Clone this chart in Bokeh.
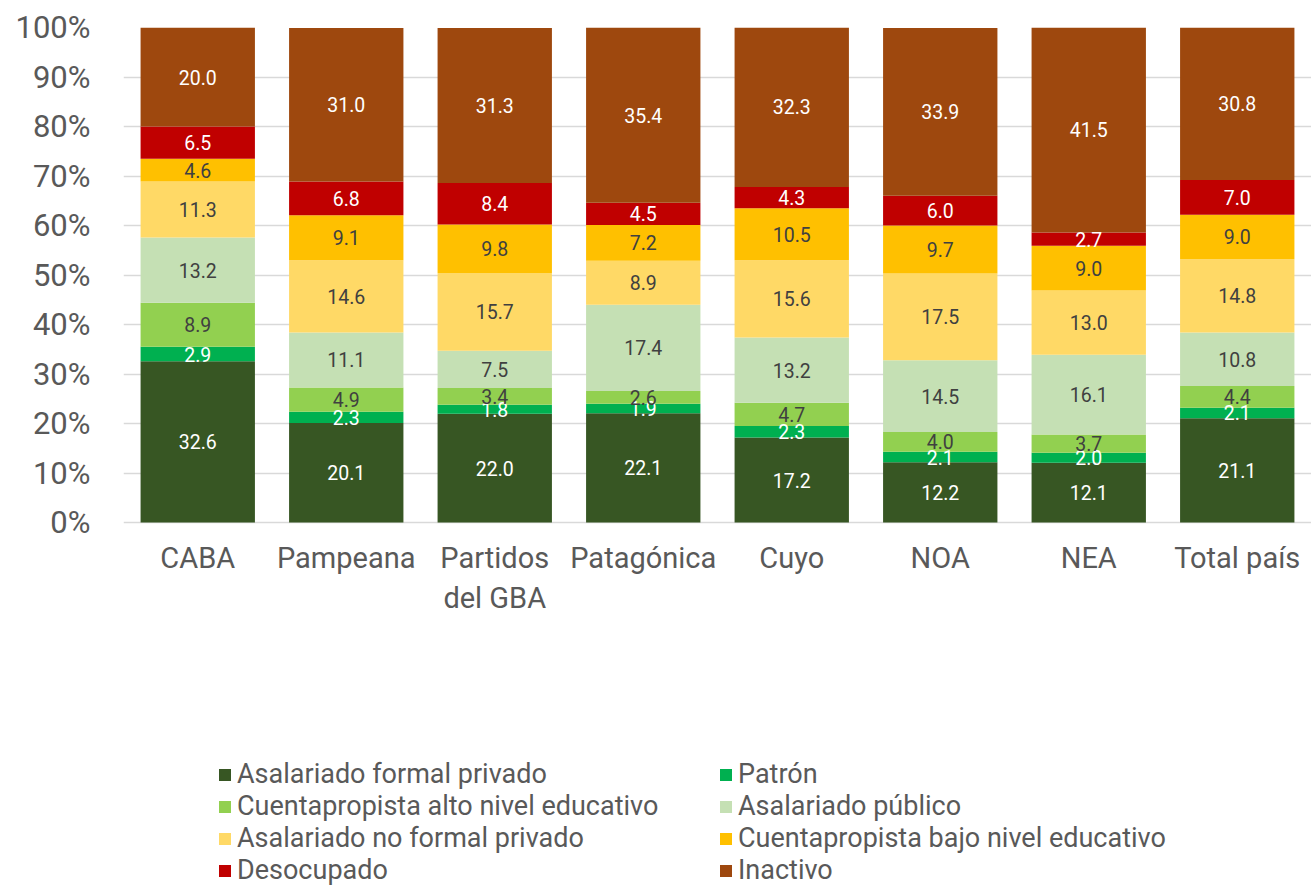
from bokeh.plotting import figure
from bokeh.models import ColumnDataSource, Range1d, FactorRange, Legend, LegendItem, CustomJSTickFormatter, FixedTicker
from bokeh.core.properties import value
from bokeh.embed import file_html
from bokeh.resources import INLINE

regions = ["CABA", "Pampeana", "Partidos\ndel GBA", "Patagónica", "Cuyo", "NOA", "NEA", "Total país"]
series = ["Asalariado formal privado", "Patrón", "Cuentapropista alto nivel educativo",
          "Asalariado público", "Asalariado no formal privado",
          "Cuentapropista bajo nivel educativo", "Desocupado", "Inactivo"]
asal_formal = [32.6, 20.1, 22.0, 22.1, 17.2, 12.2, 12.1, 21.1]
patron = [2.9, 2.3, 1.8, 1.9, 2.3, 2.1, 2.0, 2.1]
cuenta_alto = [8.9, 4.9, 3.4, 2.6, 4.7, 4.0, 3.7, 4.4]
asal_publico = [13.2, 11.1, 7.5, 17.4, 13.2, 14.5, 16.1, 10.8]
asal_noformal = [11.3, 14.6, 15.7, 8.9, 15.6, 17.5, 13.0, 14.8]
cuenta_bajo = [4.6, 9.1, 9.8, 7.2, 10.5, 9.7, 9.0, 9.0]
desocupado = [6.5, 6.8, 8.4, 4.5, 4.3, 6.0, 2.7, 7.0]
inactivo = [20.0, 31.0, 31.3, 35.4, 32.3, 33.9, 41.5, 30.8]
y_ticks = [0, 10, 20, 30, 40, 50, 60, 70, 80, 90, 100]

values = [asal_formal, patron, cuenta_alto, asal_publico, asal_noformal, cuenta_bajo, desocupado, inactivo]
colors = ["#375623", "#00B050", "#92D050", "#C5E0B4", "#FFD966", "#FFC000", "#C00000", "#9E480E"]
label_colors = ["#FFFFFF", "#FFFFFF", "#404040", "#404040", "#404040", "#404040", "#FFFFFF", "#FFFFFF"]

keys = [f"s{i}" for i in range(len(series))]
data = {"x": regions}
for k, v in zip(keys, values):
    data[k] = v
src = ColumnDataSource(data)

# frame spans 27..886 px; 4.95 px per percentage point -> room below 0 for labels and legend
p = figure(x_range=FactorRange(*regions, range_padding=0), y_range=Range1d(-73.5, 100),
           width=1311, height=886, output_backend="svg", toolbar_location=None,
           min_border_left=123, min_border_right=0, min_border_top=27, min_border_bottom=0)
p.outline_line_color = None

renderers = p.vbar_stack(keys, x="x", width=0.77, color=colors, line_color=None, source=src)

# value labels
lx, ly, lt, lc = [], [], [], []
for si, vals in enumerate(values):
    for ri, r in enumerate(regions):
        base = sum(values[j][ri] for j in range(si))
        lx.append(r)
        ly.append(base + vals[ri] / 2)
        lt.append(f"{vals[ri]:.1f}")
        lc.append(label_colors[si])
lsrc = ColumnDataSource(dict(x=lx, y=ly, t=lt, c=lc))
p.text(x="x", y="y", text="t", text_color="c", source=lsrc, text_align="center",
       text_baseline="middle", text_font=value("Roboto"), text_font_size="19.5px")

# axes
p.yaxis.ticker = FixedTicker(ticks=y_ticks)
p.yaxis.formatter = CustomJSTickFormatter(code="return tick.toFixed(0) + '%';")
p.yaxis.axis_line_color = None
p.yaxis.major_tick_line_color = None
p.yaxis.minor_tick_line_color = None
p.yaxis.major_label_text_font = "Roboto"
p.yaxis.major_label_text_font_size = "31px"
p.yaxis.major_label_text_color = "#595959"
p.yaxis.major_label_standoff = 27

p.xaxis.fixed_location = 0
p.xaxis.axis_line_color = None
p.xaxis.major_tick_line_color = None
p.xaxis.major_label_text_font = "Roboto"
p.xaxis.major_label_text_font_size = "29px"
p.xaxis.major_label_text_color = "#595959"
p.xaxis.major_label_standoff = 12

p.xgrid.grid_line_color = None
p.ygrid.grid_line_color = "#D9D9D9"
p.ygrid.grid_line_width = 1.5

items = [LegendItem(label=s, renderers=[r]) for s, r in zip(series, renderers)]
legend = Legend(items=items, location=(94, 0), orientation="horizontal", ncols=2,
                label_text_font="Roboto", label_text_font_size="27px", label_text_color="#595959",
                glyph_width=15, glyph_height=15, spacing=0, padding=0, margin=0,
                label_standoff=5, label_width=481, border_line_color=None, background_fill_alpha=0)
p.add_layout(legend, "center")

open("out.html", "w").write(file_html(p, INLINE))
